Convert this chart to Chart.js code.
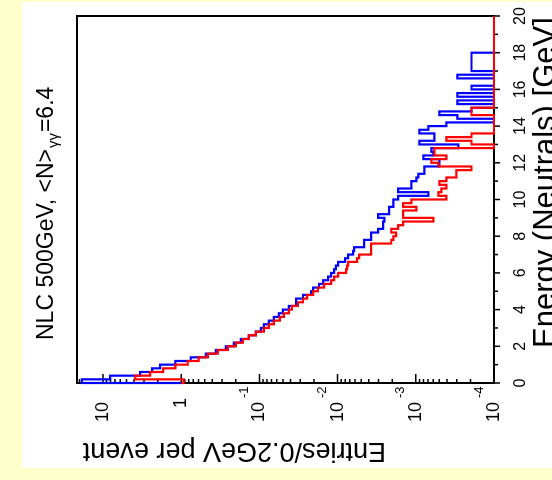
<!DOCTYPE html>
<html>
<head>
<meta charset="utf-8">
<script src="https://cdn.jsdelivr.net/npm/chart.js@4.4.0/dist/chart.umd.min.js"></script>
<style>
  html, body { margin: 0; padding: 0; background: #ffffcc; }
  #page { position: relative; width: 552px; height: 480px; overflow: hidden; }
  #paper { position: absolute; left: 22px; top: 2px; width: 530px; height: 466px; background: #fff; }
  #chart { position: absolute; left: 0; top: 0; transform-origin: 0 0; transform: translate(0, 480px) rotate(-90deg); }
</style>
</head>
<body>
<div id="page">
  <div id="paper"></div>
  <canvas id="chart" width="480" height="552"></canvas>
</div>
<script>
// histogram, 0.2 GeV bins from 0 to 20 GeV (the page is turned a quarter turn, like the original)
const binWidth = 0.2
const energyMin = 0
const energyMax = 20
const baseline = 1

const redValues = [
  0.93, 3.89, 2.50, 1.70, 1.19, 0.825, 0.597, 0.457, 0.340, 0.253,
  0.200, 0.163, 0.136, 0.111, 0.0876, 0.0755, 0.0652, 0.0546, 0.0485, 0.0419,
  0.0383, 0.0321, 0.0277, 0.0246, 0.0206, 0.0178, 0.0149, 0.0121, 0.0111, 0.00985,
  0.00778, 0.00755, 0.00733, 0.00562, 0.00530, 0.00372, 0.00372, 0.00372, 0.00206, 0.00194,
  0.00178, 0.00206, 0.00168, 0.00145, 0.000597, 0.00145, 0.00145, 0.000985, 0.00145, 0.00114,
  0.000406, 0.000515, 0.000471, 0.000406, 0.000500, 0.000406, 0.000303, 0.000303, 0.000194, 0.000515,
  0.000633, 0.000406, 0.000579, 0.000579, 0, 0.000194, 0.000406, 0.000194, 0, 0,
  0, 0, 0, 0.000194, 0.000194, 0, 0, 0, 0, 0,
  0, 0, 0, 0, 0, 0, 0, 0, 0, 0,
  0, 0, 0, 0, 0, 0, 0, 0, 0, 0
]

const blueValues = [
  18.6, 8.13, 3.35, 2.35, 1.86, 1.19, 0.755, 0.485, 0.361, 0.269,
  0.212, 0.173, 0.136, 0.111, 0.0957, 0.0876, 0.0755, 0.0652, 0.0562, 0.0500,
  0.0419, 0.0340, 0.0340, 0.0277, 0.0219, 0.0206, 0.0173, 0.0153, 0.0132, 0.0121,
  0.0111, 0.0105, 0.00985, 0.00801, 0.00733, 0.00633, 0.00615, 0.00457, 0.00457, 0.00372,
  0.00372, 0.00303, 0.00261, 0.00261, 0.00253, 0.00303, 0.00219, 0.00219, 0.00194, 0.00194,
  0.00168, 0.000691, 0.00168, 0.00114, 0.00114, 0.000985, 0.000929, 0.000778, 0.000778, 0.000500,
  0.000500, 0.000801, 0.000597, 0.000633, 0.000285, 0.000902, 0.000579, 0.000579, 0.000902, 0.000691,
  0.000406, 0, 0.000294, 0.000500, 0.000194, 0, 0.000294, 0, 0.000294, 0,
  0.000194, 0, 0, 0.000294, 0, 0.000194, 0.000194, 0.000194, 0.000194, 0.000194,
  0, 0, 0, 0, 0, 0, 0, 0, 0, 0
]

const yMin = 1e-4
const yMax = 21.5

const energyTicks = [0, 2, 4, 6, 8, 10, 12, 14, 16, 18, 20]
const energyMinorTicks = [1, 3, 5, 7, 9, 11, 13, 15, 17, 19]
const energyLabels = ['0', '2', '4', '6', '8', '10', '12', '14', '16', '18', '20']

const logDecades = [10, 1, 0.1, 0.01, 0.001, 0.0001]
const logLabels = ['10', '1', '10', '10', '10', '10']
const logExponents = ['', '', '-1', '-2', '-3', '-4']
const logMantissas = [1, 2, 3, 4, 5, 6, 7, 8, 9]

const titleMain = 'NLC 500GeV, <N>'
const titleSub = 'γγ'
const titleEnd = '=6.4'
const yTitle = 'Entries/0.2GeV per event'
const xTitle = 'Energy (Neutrals) [GeV]'

const font = '"Liberation Sans", Arial, sans-serif'

function histPoints(values) {
  const pts = [{ x: energyMin, y: baseline }]
  values.forEach((v, i) => {
    pts.push({ x: energyMin + i * binWidth, y: Math.max(v, yMin) })
  })
  pts.push({ x: energyMax, y: Math.max(values[values.length - 1], yMin) })
  return pts
}

const framePlugin = {
  id: 'frame',
  beforeDatasetsDraw(chart) {
    const { ctx, chartArea: a, scales: { x, y } } = chart
    ctx.save()
    ctx.strokeStyle = '#000'
    ctx.fillStyle = '#000'
    ctx.lineWidth = 2
    ctx.strokeRect(a.left, a.top, a.right - a.left, a.bottom - a.top)

    ctx.lineWidth = 1.5
    ctx.beginPath()
    logDecades.forEach((d) => {
      logMantissas.forEach((m) => {
        const v = d * m
        if (v > yMax) return
        const py = y.getPixelForValue(v)
        const len = m === 1 ? 9 : 4
        ctx.moveTo(a.left, py)
        ctx.lineTo(a.left + len, py)
      })
    })
    energyTicks.forEach((e) => {
      const px = x.getPixelForValue(e)
      ctx.moveTo(px, a.bottom)
      ctx.lineTo(px, a.bottom + 6)
    })
    energyMinorTicks.forEach((e) => {
      const px = x.getPixelForValue(e)
      ctx.moveTo(px, a.bottom)
      ctx.lineTo(px, a.bottom + 4)
    })
    ctx.stroke()

    // energy labels
    ctx.font = '16px ' + font
    ctx.textAlign = 'center'
    ctx.textBaseline = 'alphabetic'
    energyTicks.forEach((e, i) => {
      ctx.fillText(energyLabels[i], x.getPixelForValue(e), a.bottom + 31)
    })

    // log labels with exponents
    ctx.textBaseline = 'middle'
    logDecades.forEach((d, i) => {
      const py = y.getPixelForValue(d)
      ctx.font = '18px ' + font
      ctx.textAlign = 'right'
      const right = logExponents[i] === '' && logLabels[i] === '1' ? a.left - 15 : a.left - 19
      ctx.fillText(logLabels[i], right, py)
      if (logExponents[i]) {
        ctx.font = '13px ' + font
        ctx.textAlign = 'left'
        ctx.fillText(logExponents[i], a.left - 15, py - 15)
      }
    })

    // title
    ctx.textAlign = 'left'
    ctx.textBaseline = 'alphabetic'
    let u = 140
    const base = 53
    ctx.font = '23px ' + font
    ctx.fillText(titleMain, u, base)
    u += ctx.measureText(titleMain).width + 1
    ctx.font = '15px ' + font
    ctx.fillText(titleSub, u, base + 5)
    u += ctx.measureText(titleSub).width + 1
    ctx.font = '23px ' + font
    ctx.fillText(titleEnd, u, base)

    // axis titles
    ctx.font = '31px ' + font
    ctx.fillText(xTitle, 132, a.bottom + 61)

    ctx.save()
    ctx.translate(37, 386)
    ctx.rotate(-Math.PI / 2)
    ctx.font = '27px ' + font
    ctx.fillText(yTitle, 0, 0)
    ctx.restore()

    ctx.restore()
  }
}

const ctx = document.getElementById('chart').getContext('2d')
const myChart = new Chart(ctx, {
  type: 'line',
  data: {
    datasets: [
      {
        label: 'red',
        data: histPoints(redValues),
        borderColor: '#ff0000',
        borderWidth: 2.2,
        stepped: true,
        pointRadius: 0,
        fill: false,
        clip: false,
      },
      {
        label: 'blue',
        data: histPoints(blueValues),
        borderColor: '#0000ff',
        borderWidth: 2.2,
        stepped: true,
        pointRadius: 0,
        fill: false,
        clip: false,
      },
    ],
  },
  options: {
    responsive: false,
    animation: false,
    devicePixelRatio: 1,
    layout: { padding: { left: 97, top: 77, right: 16, bottom: 58 } },
    scales: {
      x: { type: 'linear', min: energyMin, max: energyMax, display: false },
      y: { type: 'logarithmic', min: yMin, max: yMax, display: false },
    },
    plugins: {
      legend: { display: false },
      tooltip: { enabled: false },
    },
  },
  plugins: [framePlugin],
})
</script>
</body>
</html>
